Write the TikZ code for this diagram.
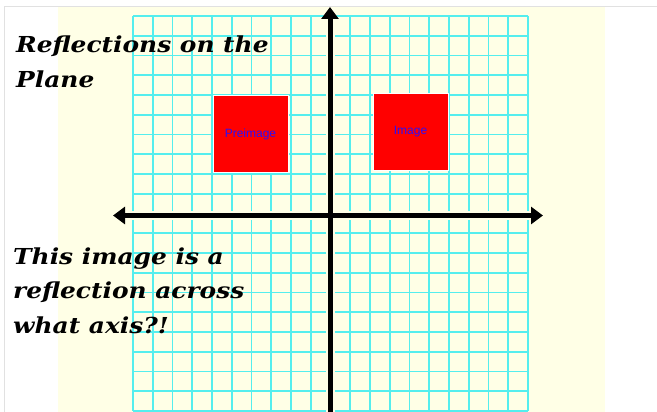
\documentclass[tikz,border=0pt]{standalone}
\usepackage{fontspec}
\setmainfont{Liberation Sans}
\newfontfamily\titlefont[FakeStretch=1.13]{DejaVu Serif}
\usetikzlibrary{arrows.meta}
\definecolor{cream}{RGB}{255,255,230}
\definecolor{gridcyan}{RGB}{85,238,238}
\definecolor{framegray}{RGB}{225,225,225}
\definecolor{labelblue}{RGB}{45,15,245}
\tikzset{
  sq/.style={fill=red, draw=white, line width=1pt, minimum width=75pt, minimum height=76pt, inner sep=0pt, font=\fontsize{12}{14}\selectfont, text=labelblue},
  headline/.style={anchor=base west, inner sep=0pt, font=\titlefont\bfseries\itshape\fontsize{22}{26}\selectfont, text=black},
  axisline/.style={line width=5pt, -{Triangle[length=12pt,width=17pt]}},
  halo/.style={line width=9pt, cream},
  gridline/.style={gridcyan, line width=1.6pt}
}
\begin{document}
\begin{tikzpicture}[x=1pt,y=-1pt]
\useasboundingbox (0,0) rectangle (657,412);
\clip (0,0) rectangle (657,412);
% frame and background
\fill[white] (0,0) rectangle (657,412);
\draw[framegray, line width=1pt] (4,420) -- (4,7) -- (657,7);
\fill[cream] (58,7.5) rectangle (605,412);
% grid
\foreach \i in {0,...,20} {
  \draw[gridline] ({133+19.75*\i},16) -- ({133+19.75*\i},411);
  \draw[gridline] (133,{16+19.75*\i}) -- (528,{16+19.75*\i});
}
% axes
\coordinate (xl) at (330,215.5);
\coordinate (xlft) at (113,215.5);
\coordinate (xrgt) at (543,215.5);
\coordinate (ytop) at (330,7);
\coordinate (ybot) at (330,424);
\draw[halo] (116,215.5) -- (540,215.5);
\draw[halo] (330,10) -- (330,412);
\draw[axisline] (xl) -- (xlft);
\draw[axisline] (xl) -- (xrgt);
\draw[axisline] (xl) -- (ytop);
\draw[axisline] (xl) -- (ybot);
% squares
\node[sq] (pre) at (250.5,134) {Preimage};
\node[sq] (img) at (410.5,132) {\raisebox{2pt}{Image}};
% texts
\node[headline] (t1) at (16,53) {Reflections on the};
\node[headline] (t2) at (16,88) {Plane};
\node[headline] (q1) at (13,264) {This image is a};
\node[headline] (q2) at (13,298) {reflection across};
\node[headline] (q3) at (13,333) {what axis?!};
\end{tikzpicture}
\end{document}
